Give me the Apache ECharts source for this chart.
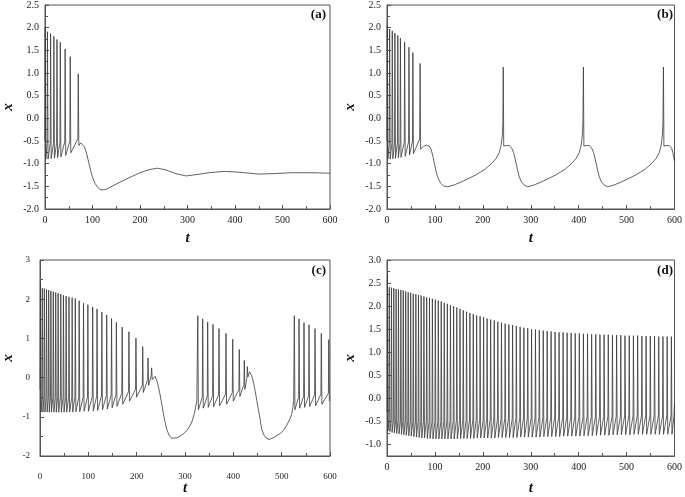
<!DOCTYPE html>
<html><head><meta charset="utf-8">
<script src="https://cdn.jsdelivr.net/npm/echarts@6/dist/echarts.min.js"></script>
<style>html,body{margin:0;padding:0;background:#fff}#c{width:685px;height:497px}</style>
</head><body><div id="c"></div><script>
// ---------- tick labels ----------
const xTicks = [0, 100, 200, 300, 400, 500, 600];
const yTicksAB = [-2.0, -1.5, -1.0, -0.5, 0.0, 0.5, 1.0, 1.5, 2.0, 2.5];
const yTicksC = [-2, -1, 0, 1, 2, 3];
const yTicksD = [-1.0, -0.5, 0.0, 0.5, 1.0, 1.5, 2.0, 2.5, 3.0];
const panelLabels = ['(a)', '(b)', '(c)', '(d)'];

// ---------- panel (a) ----------
const aSpikeT  = [0.5, 5.2, 11.8, 18.7, 25.2, 32.2, 42.4, 53.1, 70.0];
const aSpikeX  = [2.0, 1.91, 1.87, 1.81, 1.74, 1.68, 1.53, 1.36, 0.98];
const aTroughX = [-0.9, -0.9, -0.89, -0.88, -0.87, -0.85, -0.82, -0.76, -0.6];
const aOnsetX  = [-0.5, -0.55, -0.55, -0.55, -0.55, -0.53, -0.52, -0.5, -0.45];
const aSlowT = [72, 75, 79, 83, 87, 92, 96, 100, 105, 110, 116, 122, 130, 150, 175, 200, 220, 237, 255, 275, 297, 320, 345, 378, 410, 450, 480, 520, 560, 600];
const aSlowX = [-0.56, -0.54, -0.56, -0.63, -0.75, -0.97, -1.15, -1.3, -1.43, -1.51, -1.57, -1.58, -1.56, -1.45, -1.32, -1.2, -1.13, -1.1, -1.14, -1.22, -1.27, -1.24, -1.2, -1.17, -1.19, -1.23, -1.22, -1.2, -1.2, -1.21];

// ---------- panel (b) ----------
const bSpikeT  = [0.6, 5.5, 11.0, 16.5, 22.5, 28.0, 36.8, 45.8, 54.0, 69.0];
const bSpikeX  = [2.05, 1.97, 1.93, 1.88, 1.83, 1.77, 1.68, 1.57, 1.45, 1.21];
const bTroughX = [-0.9, -0.9, -0.89, -0.88, -0.87, -0.86, -0.84, -0.81, -0.78, -0.68];
const bOnsetX  = [-0.5, -0.55, -0.55, -0.55, -0.55, -0.55, -0.53, -0.52, -0.5, -0.45];
const bSlowT = [71, 76, 82, 88, 92, 96, 99, 103, 107, 112, 118, 126, 140, 160, 185, 205, 220, 228, 234, 238, 240.5, 241.8, 242.6, 243.6, 250, 255, 260, 264, 268, 272, 276, 281, 287, 294, 307, 327, 352, 372, 387, 395, 401, 405, 407.5, 408.9, 409.9, 410.9, 417, 422, 427, 431, 435, 439, 443, 448, 454, 461, 474, 494, 519, 539, 554, 562, 568, 572, 574.5, 575.9, 576.9, 577.9, 584, 589, 594, 597, 600];
const bSlowX = [-0.65, -0.62, -0.59, -0.61, -0.68, -0.85, -1.0, -1.2, -1.33, -1.43, -1.49, -1.51, -1.47, -1.38, -1.25, -1.12, -0.98, -0.88, -0.76, -0.6, -0.4, -0.1, 1.13, -0.61, -0.6, -0.6, -0.65, -0.75, -0.92, -1.12, -1.29, -1.41, -1.48, -1.51, -1.47, -1.38, -1.25, -1.12, -0.98, -0.88, -0.76, -0.6, -0.4, -0.1, 1.13, -0.61, -0.6, -0.6, -0.65, -0.75, -0.92, -1.12, -1.29, -1.41, -1.48, -1.51, -1.47, -1.38, -1.25, -1.12, -0.98, -0.88, -0.76, -0.6, -0.4, -0.1, 1.13, -0.61, -0.6, -0.6, -0.66, -0.78, -0.95];

// ---------- panel (c) ----------
const c1SpikeT  = [1.0, 4.8, 9.0, 13.5, 18.0, 22.5, 27.5, 32.5, 37.5, 43.0, 48.5, 54.0, 60.0, 66.5, 73.0, 81.0, 90.0, 99.0, 109.0, 118.0, 128.0, 138.0, 148.0, 158.0, 170.0, 184.0, 198.5, 212.5, 223.5, 231.0];
const c1SpikeX  = [2.45, 2.28, 2.27, 2.25, 2.23, 2.21, 2.19, 2.17, 2.15, 2.13, 2.10, 2.08, 2.06, 2.04, 2.02, 1.96, 1.90, 1.86, 1.80, 1.75, 1.67, 1.60, 1.51, 1.41, 1.29, 1.17, 1.01, 0.79, 0.50, 0.25];
const c1TroughX = [-0.88, -0.88, -0.88, -0.88, -0.88, -0.88, -0.88, -0.88, -0.88, -0.88, -0.88, -0.88, -0.88, -0.88, -0.87, -0.87, -0.86, -0.86, -0.85, -0.84, -0.82, -0.80, -0.77, -0.73, -0.68, -0.60, -0.50, -0.38, -0.20, -0.05];
const c1OnsetX  = [-0.30, -0.50, -0.50, -0.50, -0.50, -0.50, -0.50, -0.50, -0.50, -0.50, -0.50, -0.50, -0.50, -0.50, -0.50, -0.50, -0.50, -0.50, -0.48, -0.48, -0.47, -0.46, -0.45, -0.43, -0.40, -0.36, -0.30, -0.20, -0.05, 0.05];
const c1SlowT = [238, 243, 248, 252, 255, 258.5, 262, 267, 272, 276, 285, 296, 304, 310, 315, 319, 322, 324.5];
const c1SlowX = [0.03, -0.12, -0.41, -0.68, -0.9, -1.12, -1.31, -1.47, -1.55, -1.58, -1.53, -1.44, -1.35, -1.24, -1.1, -0.94, -0.75, -0.6];
const c2SpikeT  = [326.5, 336.6, 346.9, 357.9, 370.3, 384.8, 398.7, 412.3, 422.7, 429.0];
const c2SpikeX  = [1.58, 1.50, 1.42, 1.36, 1.25, 1.13, 0.98, 0.72, 0.44, 0.28];
const c2TroughX = [-0.82, -0.78, -0.76, -0.74, -0.72, -0.68, -0.6, -0.48, -0.3, 0.02];
const c2OnsetX  = [-0.55, -0.5, -0.48, -0.46, -0.44, -0.42, -0.38, -0.3, -0.18, 0.0];
const c2SlowT = [433.5, 438, 442, 445, 448.5, 452, 455.5, 458.6, 463, 467.6, 474, 485, 496.6, 504, 510, 516, 520.7, 523, 524.8];
const c2SlowX = [0.15, 0.05, -0.15, -0.33, -0.58, -0.82, -1.07, -1.31, -1.46, -1.54, -1.58, -1.52, -1.43, -1.34, -1.23, -1.08, -0.94, -0.78, -0.6];
const c3SpikeT  = [526.2, 535.9, 546.2, 556.6, 569.0, 582.0, 597.5];
const c3SpikeX  = [1.58, 1.50, 1.40, 1.35, 1.25, 1.13, 0.97];
const c3TroughX = [-0.82, -0.78, -0.76, -0.74, -0.72, -0.68, -0.6];
const c3OnsetX  = [-0.55, -0.5, -0.48, -0.46, -0.44, -0.42, -0.4];

// ---------- panel (d) ----------
const dSpikeT = [1.0, 4.8, 9.3, 14.1, 19.0, 23.9, 28.9, 33.9, 39.0, 44.2,
  49.4, 54.8, 60.2, 65.7, 71.3, 77.0, 82.8, 88.7, 94.7, 100.8,
  107.0, 113.2, 119.5, 125.9, 132.4, 139.0, 145.6, 152.3, 159.1, 166.0,
  173.0, 180.0, 187.1, 194.3, 201.6, 208.9, 216.3, 223.8, 231.3, 238.9,
  246.6, 254.3, 262.1, 269.9, 277.8, 285.7, 293.7, 301.7, 309.8, 317.9,
  326.1, 334.3, 342.5, 350.8, 359.1, 367.5, 375.9, 384.3, 392.8, 401.3,
  409.9, 418.5, 427.1, 435.7, 444.4, 453.1, 461.8, 470.5, 479.2, 487.9,
  496.7, 505.5, 514.3, 523.1, 531.9, 540.7, 549.5, 558.3, 567.1, 575.9,
  584.7, 593.5];
const dSpikeX = [2.69, 2.41, 2.40, 2.39, 2.37, 2.36, 2.35, 2.34, 2.32, 2.30,
  2.29, 2.27, 2.26, 2.24, 2.23, 2.21, 2.19, 2.18, 2.16, 2.14,
  2.12, 2.10, 2.07, 2.05, 2.02, 2.00, 1.97, 1.94, 1.91, 1.88,
  1.85, 1.83, 1.80, 1.78, 1.76, 1.73, 1.71, 1.69, 1.66, 1.64,
  1.62, 1.60, 1.59, 1.57, 1.55, 1.53, 1.52, 1.50, 1.49, 1.48,
  1.47, 1.46, 1.45, 1.44, 1.43, 1.43, 1.42, 1.42, 1.41, 1.41,
  1.40, 1.40, 1.39, 1.39, 1.38, 1.38, 1.38, 1.37, 1.37, 1.37,
  1.36, 1.36, 1.36, 1.36, 1.35, 1.35, 1.35, 1.35, 1.34, 1.34,
  1.34, 1.34];
const dTroughX = [-0.70, -0.72, -0.74, -0.75, -0.76, -0.77, -0.78, -0.79, -0.80, -0.81,
  -0.82, -0.83, -0.84, -0.85, -0.86, -0.86, -0.87, -0.87, -0.88, -0.88,
  -0.88, -0.88, -0.88, -0.88, -0.88, -0.88, -0.88, -0.87, -0.87, -0.87,
  -0.87, -0.87, -0.86, -0.86, -0.86, -0.86, -0.86, -0.86, -0.85, -0.85,
  -0.85, -0.85, -0.85, -0.85, -0.84, -0.84, -0.84, -0.84, -0.84, -0.84,
  -0.83, -0.83, -0.83, -0.83, -0.83, -0.82, -0.82, -0.82, -0.82, -0.82,
  -0.81, -0.81, -0.81, -0.80, -0.80, -0.80, -0.80, -0.79, -0.79, -0.79,
  -0.79, -0.79, -0.78, -0.78, -0.78, -0.78, -0.78, -0.78, -0.78, -0.78,
  -0.78, -0.78];
const dOnsetX = [-0.30, -0.45, -0.46, -0.47, -0.47, -0.48, -0.48, -0.49, -0.49, -0.50,
  -0.50, -0.50, -0.50, -0.50, -0.50, -0.50, -0.50, -0.50, -0.50, -0.50,
  -0.50, -0.50, -0.50, -0.49, -0.49, -0.49, -0.48, -0.48, -0.48, -0.47,
  -0.47, -0.47, -0.46, -0.46, -0.46, -0.45, -0.45, -0.45, -0.45, -0.44,
  -0.44, -0.44, -0.44, -0.43, -0.43, -0.43, -0.43, -0.42, -0.42, -0.42,
  -0.42, -0.42, -0.41, -0.41, -0.41, -0.41, -0.41, -0.40, -0.40, -0.40,
  -0.40, -0.40, -0.40, -0.40, -0.39, -0.39, -0.39, -0.39, -0.39, -0.39,
  -0.38, -0.38, -0.38, -0.38, -0.38, -0.38, -0.38, -0.38, -0.38, -0.38,
  -0.38, -0.38];
const dTailT = [599, 600];
const dTailX = [-0.38, -0.1];

// ---------- builders ----------
const RISE = 0.8, FALL = 1.2; // spike shape widths (t units)
function spikes(T, P, Tr, On) {
  const out = [];
  for (let i = 0; i < T.length; i++) {
    out.push([T[i] - RISE, On[i]], [T[i], P[i]], [T[i] + FALL, Tr[i]]);
  }
  return out;
}
function pairs(T, X) { return T.map((t, i) => [t, X[i]]); }

const dataA = spikes(aSpikeT, aSpikeX, aTroughX, aOnsetX).concat(pairs(aSlowT, aSlowX));
const dataB = spikes(bSpikeT, bSpikeX, bTroughX, bOnsetX).concat(pairs(bSlowT, bSlowX));
const dataC = spikes(c1SpikeT, c1SpikeX, c1TroughX, c1OnsetX)
  .concat(pairs(c1SlowT, c1SlowX))
  .concat(spikes(c2SpikeT, c2SpikeX, c2TroughX, c2OnsetX))
  .concat(pairs(c2SlowT, c2SlowX))
  .concat(spikes(c3SpikeT, c3SpikeX, c3TroughX, c3OnsetX));
const dataD = spikes(dSpikeT, dSpikeX, dTroughX, dOnsetX).concat(pairs(dTailT, dTailX));

// ---------- layout ----------
const grids = [
  { left: 40, top: 4, width: 290, height: 205 },
  { left: 387, top: 4, width: 290, height: 205 },
  { left: 40, top: 260, width: 290, height: 205 },
  { left: 387, top: 260, width: 290, height: 205 }
];
const SERIF = 'Liberation Serif';
const axisColor = '#555';
const labelStyle = { fontFamily: SERIF, fontSize: 10, color: '#222' };
const nameStyle = { fontFamily: SERIF, fontStyle: 'italic', fontWeight: 'bold', fontSize: 15, color: '#111' };

function xAxis(i, nameGap, labelMargin, labelSize) {
  return {
    type: 'value', gridIndex: i, min: xTicks[0], max: xTicks[xTicks.length - 1], interval: 100,
    name: 't', nameLocation: 'middle', nameGap: nameGap, nameTextStyle: nameStyle,
    nameMoveOverlap: false,
    axisLine: { show: true, onZero: false, lineStyle: { color: axisColor, width: 1 } },
    axisTick: { show: true, inside: true, length: 4, lineStyle: { color: axisColor } },
    minorTick: { show: true, splitNumber: 2, length: 3, lineStyle: { color: axisColor } },
    axisLabel: Object.assign({}, labelStyle, { margin: labelMargin, fontSize: labelSize }),
    splitLine: { show: false }
  };
}
function yAxisBase(i, extra) {
  return Object.assign({
    type: 'value', gridIndex: i, position: 'left',
    name: 'x', nameLocation: 'middle', nameGap: 29, nameRotate: 90, nameTextStyle: nameStyle,
    nameMoveOverlap: false,
    axisLine: { show: true, onZero: false, lineStyle: { color: axisColor, width: 1 } },
    axisTick: { show: true, inside: true, length: 4, lineStyle: { color: axisColor } },
    minorTick: { show: true, splitNumber: 2, length: 3, lineStyle: { color: axisColor } },
    splitLine: { show: false }
  }, extra);
}

const yAxes = [
  yAxisBase(0, { min: yTicksAB[0], max: yTicksAB[yTicksAB.length - 1], interval: 0.5,
    axisLabel: Object.assign({ margin: 6, formatter: v => v.toFixed(1) }, labelStyle) }),
  yAxisBase(1, { min: yTicksAB[0], max: yTicksAB[yTicksAB.length - 1], interval: 0.5,
    axisLabel: Object.assign({ margin: 6, formatter: v => v.toFixed(1) }, labelStyle) }),
  yAxisBase(2, { min: yTicksC[0], max: yTicksC[yTicksC.length - 1], interval: 1, nameGap: 24,
    axisLabel: Object.assign({}, labelStyle, { margin: 10, fontSize: 9, formatter: v => String(v) }) }),
  yAxisBase(3, { min: -1.25, max: yTicksD[yTicksD.length - 1],
    minorTick: { show: false },
    axisTick: { show: true, inside: true, length: 4, customValues: yTicksD, lineStyle: { color: axisColor } },
    axisLabel: Object.assign({ margin: 6, customValues: yTicksD, formatter: v => v.toFixed(1) }, labelStyle) }),
  // minor ticks for panel (d)
  { type: 'value', gridIndex: 3, position: 'left', min: -1.25, max: 3.0, interval: 0.25,
    axisLine: { show: false, onZero: false }, axisLabel: { show: false }, splitLine: { show: false },
    axisTick: { show: true, inside: true, length: 3, lineStyle: { color: axisColor } } }
];

const lineStyle = { color: '#3a3a3a', width: 0.8 };
function series(i, data) {
  return { type: 'line', xAxisIndex: i, yAxisIndex: i, data: data, showSymbol: false,
    symbol: 'none', lineStyle: lineStyle, animation: false, sampling: null, clip: true };
}

const labelPos = [[326, 8], [673, 8], [326, 264], [673, 264]];
const chart = echarts.init(document.getElementById('c'), null, { renderer: 'canvas' });
chart.setOption({
  backgroundColor: '#fff',
  animation: false,
  grid: grids.map(g => Object.assign({ show: true, borderColor: axisColor, borderWidth: 1, backgroundColor: 'transparent' }, g)),
  xAxis: [xAxis(0, 22, 6, 10), xAxis(1, 22, 6, 10), xAxis(2, 25, 16, 9), xAxis(3, 25, 6, 10)],
  yAxis: yAxes,
  series: [series(0, dataA), series(1, dataB), series(2, dataC), series(3, dataD)],
  graphic: panelLabels.map((t, i) => ({
    type: 'text', right: 685 - labelPos[i][0], top: labelPos[i][1],
    style: { text: t, font: 'bold 13px "Liberation Serif"', fill: '#111' }
  }))
});
</script></body></html>
